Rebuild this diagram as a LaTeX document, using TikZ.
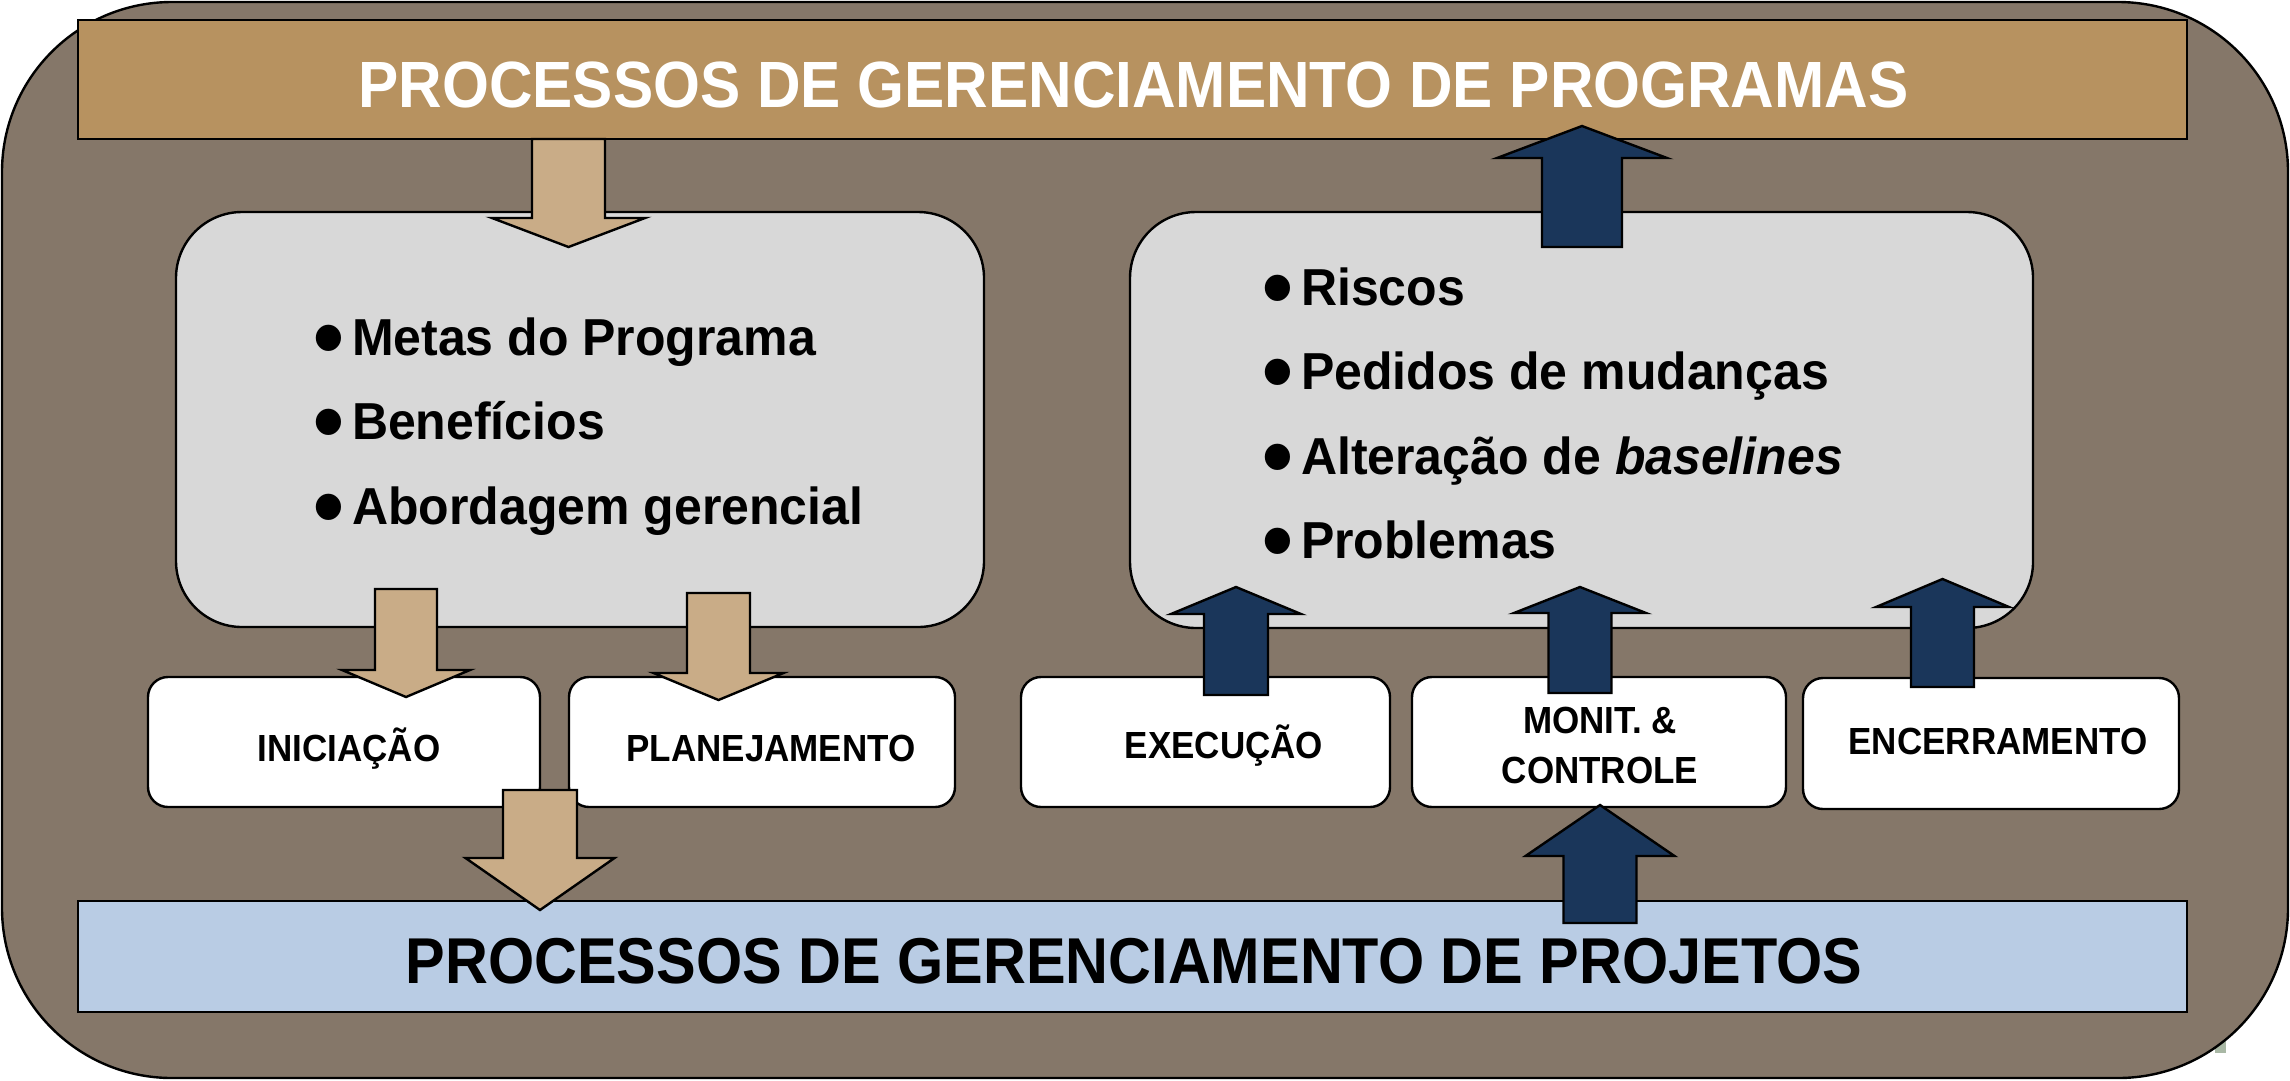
\documentclass[tikz,border=0pt]{standalone}
\usepackage{fontspec}
\setmainfont{Liberation Sans}
\definecolor{outerc}{HTML}{857769}
\definecolor{bannerc}{HTML}{B79260}
\definecolor{tanc}{HTML}{C9AC87}
\definecolor{greyc}{HTML}{D8D8D8}
\definecolor{bluec}{HTML}{B9CCE4}
\definecolor{navyc}{HTML}{1A365A}
\definecolor{markc}{HTML}{A9B8A5}
\newcommand{\bul}{\makebox[39pt][l]{\raisebox{-12.5pt}{\fontsize{88pt}{88pt}\selectfont •}}}
\newcommand{\blockarrow}[7]{%
  \draw[fill=#1, line width=2.4pt, line join=miter]
    (#2-#3,#4) -- (#2+#3,#4) -- (#2+#3,#5) -- (#2+#6,#5) -- (#2,#7)
    -- (#2-#6,#5) -- (#2-#3,#5) -- cycle;}
\begin{document}
\begin{tikzpicture}[x=1pt,y=-1pt,
  every node/.style={inner sep=0pt, outer sep=0pt},
  frame/.style={draw=black, line width=2.4pt},
  banner/.style={frame, rectangle, minimum width=2109pt},
  greybox/.style={frame, fill=greyc, rounded corners=66pt},
  whitebox/.style={frame, fill=white, rounded corners=20pt, minimum height=130pt},
  bodytext/.style={anchor=base west, font=\bfseries\fontsize{50pt}{81.25pt}\selectfont},
  lbl/.style={anchor=base, font=\bfseries\fontsize{35pt}{46.3pt}\selectfont},
  titletext/.style={anchor=base, font=\bfseries\fontsize{60pt}{60pt}\selectfont}]
\useasboundingbox (0,0) rectangle (2290,1080);
% small mark behind outer frame
\fill[markc] (2215,1037) rectangle (2226,1053);
% outer frame
\draw[fill=outerc, line width=2.4pt, rounded corners=170pt] (2,2) rectangle (2288,1078);
% banners
\node[banner, fill=bannerc, minimum height=119pt] (prog) at (1132.5,79.5) {};
\node[banner, fill=bluec, minimum height=111pt] (proj) at (1132.5,956.5) {};
\node[titletext, text=white] (progT) at (1133.5,107) {\scalebox{1.005}[1.09]{PROCESSOS DE GERENCIAMENTO DE PROGRAMAS}};
\node[titletext, text=black] (projT) at (1134,983) {\scalebox{0.99}[1.08]{PROCESSOS DE GERENCIAMENTO DE PROJETOS}};
% grey boxes
\node[greybox, minimum width=808pt, minimum height=415pt] (lbox) at (580,419.5) {};
\node[greybox, minimum width=903pt, minimum height=416pt] (rbox) at (1581.5,420) {};
\node[bodytext] (ltext) at (313,355) {\scalebox{1}[1.04]{\begin{tabular}[t]{@{}l@{}}\bul Metas do Programa\\ \bul Benefícios\\ \bul Abordagem gerencial\end{tabular}}};
\node[bodytext] (rtext) at (1262,305) {\scalebox{1}[1.04]{\begin{tabular}[t]{@{}l@{}}\bul Riscos\\ \bul Pedidos de mudanças\\ \bul Alteração de \textit{baselines}\\ \bul Problemas\end{tabular}}};
% process boxes
\node[whitebox, minimum width=392pt] (inic) at (344,742) {};
\node[whitebox, minimum width=386pt] (plan) at (762,742) {};
\node[whitebox, minimum width=369pt] (exec) at (1205.5,742) {};
\node[whitebox, minimum width=374pt] (moni) at (1599,742) {};
\node[whitebox, minimum width=376pt, minimum height=131pt] (ence) at (1991,743.5) {};
\node[lbl] (inicT) at (349,761) {\scalebox{1}[1.08]{INICIAÇÃO}};
\node[lbl] (planT) at (771,761) {\scalebox{1}[1.08]{PLANEJAMENTO}};
\node[lbl] (execT) at (1224,758) {\scalebox{1}[1.08]{EXECUÇÃO}};
\node[lbl] (moniT) at (1600,733) {\scalebox{1}[1.08]{\begin{tabular}[t]{@{}c@{}}MONIT. \&\\CONTROLE\end{tabular}}};
\node[lbl] (enceT) at (1998,754) {\scalebox{1}[1.08]{ENCERRAMENTO}};
% tan arrows (downwards)
\blockarrow{tanc}{568.5}{36.5}{139}{218}{76.5}{247}
\blockarrow{tanc}{406}{31}{589}{670}{64}{697}
\blockarrow{tanc}{718.5}{31.5}{593}{673}{65}{700}
\blockarrow{tanc}{540}{37}{790}{858}{74.5}{910}
% navy arrows (upwards)
\blockarrow{navyc}{1236}{32}{695}{614}{65}{587}
\blockarrow{navyc}{1580}{31.5}{693}{613}{66}{587}
\blockarrow{navyc}{1942.5}{31.5}{687}{607}{66.5}{579}
\blockarrow{navyc}{1582}{40}{247}{158}{85}{126}
\blockarrow{navyc}{1600}{36.5}{923}{856}{74.5}{805}
\end{tikzpicture}
\end{document}
